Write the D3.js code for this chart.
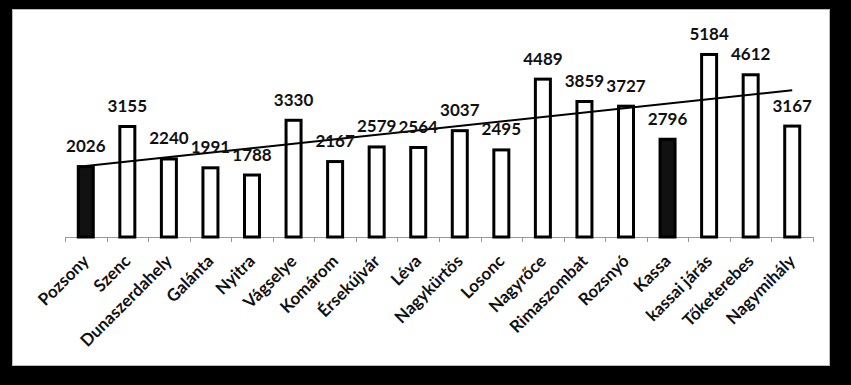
<!DOCTYPE html>
<html><head><meta charset="utf-8">
<script src="https://cdn.jsdelivr.net/npm/d3@7"></script>
<style>
html,body{margin:0;padding:0;background:#000;}
svg{display:block;}
text{font-family:Lato,"Open Sans",sans-serif;font-weight:bold;fill:#111;}
</style></head>
<body>
<svg id="chart" width="851" height="385"></svg>
<script>
const categories = ["Pozsony","Szenc","Dunaszerdahely","Galánta","Nyitra","Vágselye","Komárom","Érsekújvár","Léva","Nagykürtös","Losonc","Nagyrőce","Rimaszombat","Rozsnyó","Kassa","kassai járás","Tőketerebes","Nagymihály"];
const values = [2026,3155,2240,1991,1788,3330,2167,2579,2564,3037,2495,4489,3859,3727,2796,5184,4612,3167];
const highlighted = ["Pozsony","Kassa"];

const svg = d3.select("#chart");
svg.append("rect").attr("x",0).attr("y",0).attr("width",851).attr("height",385).attr("fill","#000");
svg.append("rect").attr("x",12.5).attr("y",9.5).attr("width",817).attr("height",356)
  .attr("fill","#fff").attr("stroke","#bbb").attr("stroke-width",1);

const x = d3.scaleBand().domain(categories).range([65,813]).padding(0);
const y = d3.scaleLinear().domain([0,6000]).range([237,24]);

// axis
const axisG = svg.append("g").attr("transform","translate(0,237)");
axisG.append("line").attr("x1",65).attr("x2",813).attr("y1",0.5).attr("y2",0.5).attr("stroke","#999").attr("stroke-width",1);
const tickPos = categories.map(c=>x(c)).concat([x.range()[1]]);
axisG.selectAll("line.tick").data(tickPos).enter().append("line").attr("class","tick")
  .attr("x1",d=>Math.round(d)+0.5).attr("x2",d=>Math.round(d)+0.5).attr("y1",0).attr("y2",5)
  .attr("stroke","#999").attr("stroke-width",1);

const barW = 15;
const data = categories.map((c,i)=>({c, v:values[i]}));
svg.append("g").selectAll("rect").data(data).enter().append("rect")
  .attr("x",d=>x(d.c)+x.bandwidth()/2-barW/2)
  .attr("y",d=>y(d.v)+1.5)
  .attr("width",barW)
  .attr("height",d=>y(0)-y(d.v)-1.5)
  .attr("fill",d=>highlighted.includes(d.c)?"#111":"#fff")
  .attr("stroke","#000").attr("stroke-width",3);

// linear trendline (least squares on category index)
const n = values.length;
const xs = d3.range(1,n+1);
const mx = d3.mean(xs), my = d3.mean(values);
const slope = d3.sum(xs.map((xi,i)=>(xi-mx)*(values[i]-my))) / d3.sum(xs.map(xi=>(xi-mx)*(xi-mx)));
const icpt = my - slope*mx;
const cx = c => x(c)+x.bandwidth()/2;
svg.append("line")
  .attr("x1",cx(categories[0])).attr("y1",y(icpt+slope*1))
  .attr("x2",cx(categories[n-1])).attr("y2",y(icpt+slope*n))
  .attr("stroke","#000").attr("stroke-width",2);

// value labels
svg.append("g").selectAll("text").data(data).enter().append("text")
  .attr("x",d=>cx(d.c)).attr("y",d=>y(d.v)-13)
  .attr("text-anchor","middle").attr("font-size",17)
  .text(d=>d.v);

// category labels
svg.append("g").selectAll("text").data(categories).enter().append("text")
  .attr("transform",c=>`translate(${cx(c)},258) rotate(-45)`)
  .attr("text-anchor","end").attr("dy","0.35em").attr("font-size",17)
  .text(c=>c);
</script>
</body></html>
